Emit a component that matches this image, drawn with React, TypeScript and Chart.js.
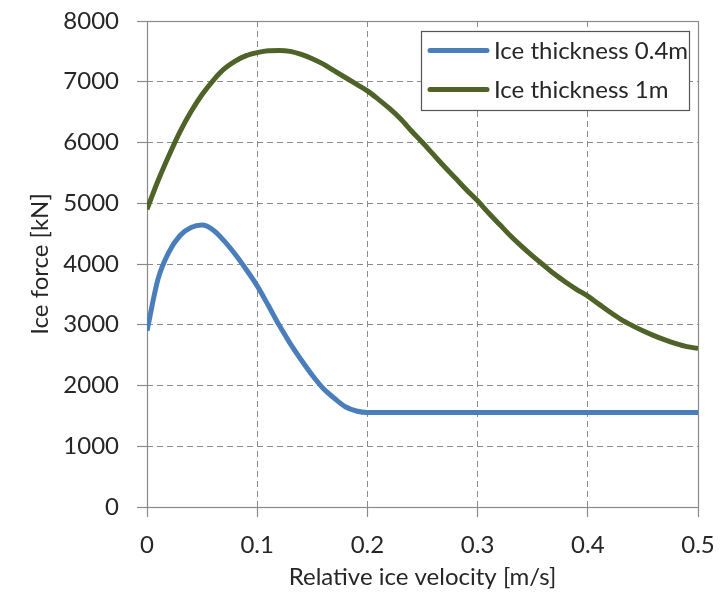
import { useEffect, useRef } from "react";
import { Chart, registerables } from "chart.js";

Chart.register(...registerables);

const velocity = [
  0, 0.01, 0.02, 0.03, 0.04, 0.05, 0.06, 0.07, 0.08, 0.09,
  0.1, 0.11, 0.12, 0.13, 0.14, 0.15, 0.16, 0.17, 0.18, 0.19,
  0.2, 0.21, 0.22, 0.23, 0.24, 0.25, 0.26, 0.27, 0.28, 0.29,
  0.3, 0.31, 0.32, 0.33, 0.34, 0.35, 0.36, 0.37, 0.38, 0.39,
  0.4, 0.41, 0.42, 0.43, 0.44, 0.45, 0.46, 0.47, 0.48, 0.49, 0.5,
];

const force04 = [
  2900, 3750, 4200, 4470, 4600, 4640, 4560, 4380, 4160, 3910,
  3640, 3320, 2990, 2690, 2420, 2170, 1950, 1790, 1650, 1580,
  1555, 1555, 1555, 1555, 1555, 1555, 1555, 1555, 1555, 1555,
  1555, 1555, 1555, 1555, 1555, 1555, 1555, 1555, 1555, 1555,
  1555, 1555, 1555, 1555, 1555, 1555, 1555, 1555, 1555, 1555, 1555,
];

const force1 = [
  4900, 5370, 5790, 6180, 6510, 6790, 7020, 7210, 7340, 7430,
  7480, 7510, 7515, 7500, 7450, 7380, 7290, 7180, 7070, 6960,
  6850, 6710, 6560, 6390, 6190, 6000, 5800, 5600, 5410, 5220,
  5040, 4840, 4650, 4460, 4290, 4130, 3980, 3830, 3700, 3580,
  3470, 3340, 3210, 3090, 2990, 2900, 2820, 2750, 2690, 2640, 2610,
];

const seriesLabels = ["Ice thickness 0.4m", "Ice thickness 1m"];
const seriesColors = ["#4a7ebb", "#4f6228"];
const xTicks = [0, 0.1, 0.2, 0.3, 0.4, 0.5];
const xTickLabels = ["0", "0.1", "0.2", "0.3", "0.4", "0.5"];
const yTicks = [0, 1000, 2000, 3000, 4000, 5000, 6000, 7000, 8000];
const yTickLabels = ["0", "1000", "2000", "3000", "4000", "5000", "6000", "7000", "8000"];
const xTitle = "Relative ice velocity [m/s]";
const yTitle = "Ice force [kN]";

const FONT = "Lato, 'Open Sans', sans-serif";
const TEXT = "#262626";
const AXIS = "#8a8a8a";

const framePlugin = {
  id: "frame",
  beforeDatasetsDraw(chart: any) {
    const { ctx, chartArea } = chart;
    const { left, right, top, bottom } = chartArea;
    ctx.save();
    ctx.strokeStyle = AXIS;
    ctx.lineWidth = 1.2;
    ctx.setLineDash([]);
    ctx.strokeRect(left + 0.5, top + 0.5, right - left, bottom - top);
    ctx.restore();
  },
};

const legendPlugin = {
  id: "boxLegend",
  afterDraw(chart: any) {
    const { ctx, chartArea } = chart;
    const bw = 268;
    const bh = 79;
    const bx = chartArea.right - 9 - bw;
    const by = chartArea.top + 10;
    ctx.save();
    ctx.fillStyle = "#ffffff";
    ctx.fillRect(bx, by, bw, bh);
    ctx.strokeStyle = "#555555";
    ctx.lineWidth = 1.2;
    ctx.setLineDash([]);
    ctx.strokeRect(bx + 0.5, by + 0.5, bw, bh);
    const rows = [by + 19.5, by + 58.5];
    chart.data.datasets.forEach((ds: any, i: number) => {
      const yy = rows[i];
      ctx.strokeStyle = ds.borderColor;
      ctx.lineWidth = 5;
      ctx.lineCap = "round";
      ctx.beginPath();
      ctx.moveTo(bx + 9, yy);
      ctx.lineTo(bx + 66, yy);
      ctx.stroke();
      ctx.fillStyle = TEXT;
      ctx.font = `24px ${FONT}`;
      ctx.textBaseline = "middle";
      ctx.textAlign = "left";
      ctx.fillText(ds.label, bx + 73, yy + 1);
    });
    ctx.restore();
  },
};

export default function App() {
  const ref = useRef<HTMLCanvasElement | null>(null);

  useEffect(() => {
    document.body.style.margin = "0";
    const canvas = ref.current;
    if (!canvas) return;
    const chart = new Chart(canvas, {
      type: "line",
      data: {
        datasets: [force04, force1].map((arr, i) => ({
          label: seriesLabels[i],
          data: velocity.map((v, j) => ({ x: v, y: arr[j] })),
          borderColor: seriesColors[i],
          backgroundColor: seriesColors[i],
          borderWidth: 5,
          pointRadius: 0,
          fill: false,
          cubicInterpolationMode: "monotone",
        })),
      },
      options: {
        animation: false,
        responsive: false,
        devicePixelRatio: 1,
        layout: { padding: { left: 0, right: 26, top: 21, bottom: 0 } },
        plugins: {
          legend: { display: false },
          tooltip: { enabled: false },
        },
        scales: {
          x: {
            type: "linear",
            min: 0,
            max: 0.5,
            afterBuildTicks: (s: any) => {
              s.ticks = xTicks.map((v) => ({ value: v }));
            },
            afterFit: (s: any) => {
              s.height = 85;
              s.paddingLeft = 0;
              s.paddingRight = 0;
            },
            ticks: {
              color: TEXT,
              font: { family: FONT, size: 24 },
              padding: 14,
              maxRotation: 0,
              callback: (v: any) => {
                const k = xTicks.findIndex((t) => Math.abs(t - Number(v)) < 1e-9);
                return k >= 0 ? xTickLabels[k] : "";
              },
            },
            grid: {
              color: AXIS,
              lineWidth: 1,
              tickLength: 10,
              tickColor: AXIS,
              tickWidth: 1.2,
              tickBorderDash: [],
            },
            border: { display: false, dash: [6, 4] },
            title: {
              display: true,
              text: xTitle,
              color: TEXT,
              font: { family: FONT, size: 24 },
              padding: { top: 0, bottom: 0 },
            },
          },
          y: {
            type: "linear",
            min: 0,
            max: 8000,
            afterBuildTicks: (s: any) => {
              s.ticks = yTicks.map((v) => ({ value: v }));
            },
            afterFit: (s: any) => {
              s.width = 147;
              s.paddingTop = 0;
              s.paddingBottom = 0;
            },
            ticks: {
              color: TEXT,
              font: { family: FONT, size: 24 },
              padding: 18,
              callback: (v: any) => {
                const k = yTicks.indexOf(Number(v));
                return k >= 0 ? yTickLabels[k] : "";
              },
            },
            grid: {
              color: AXIS,
              lineWidth: 1,
              tickLength: 10,
              tickColor: AXIS,
              tickWidth: 1.2,
              tickBorderDash: [],
            },
            border: { display: false, dash: [6, 4] },
            title: {
              display: true,
              text: yTitle,
              color: TEXT,
              font: { family: FONT, size: 24 },
              padding: { top: 26, bottom: 0 },
            },
          },
        },
      },
      plugins: [framePlugin, legendPlugin],
    } as any);
    return () => chart.destroy();
  }, []);

  return (
    <div style={{ position: "absolute", left: 0, top: 0, width: 724, height: 592 }}>
      <canvas ref={ref} width={724} height={592} style={{ width: 724, height: 592 }} />
    </div>
  );
}
